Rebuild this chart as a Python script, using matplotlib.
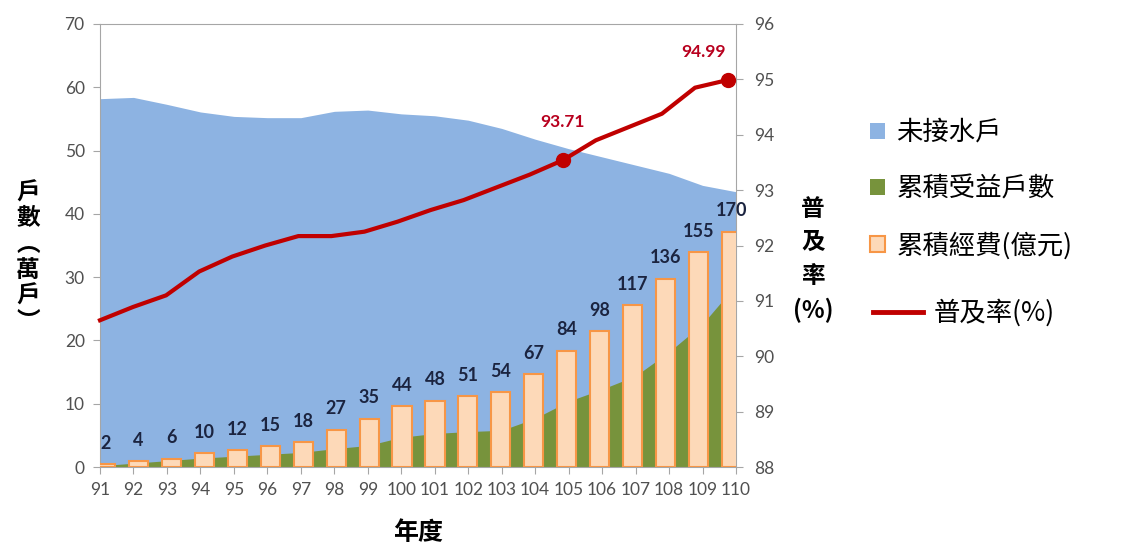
import numpy as np
import matplotlib
matplotlib.use("Agg")
import matplotlib.pyplot as plt
from matplotlib.patches import Patch
from matplotlib.lines import Line2D

# data
years = [91, 92, 93, 94, 95, 96, 97, 98, 99, 100,
         101, 102, 103, 104, 105, 106, 107, 108, 109, 110]
unconnected = [58.2, 58.4, 57.3, 56.1, 55.4, 55.2, 55.2, 56.2, 56.4, 55.8,
               55.5, 54.8, 53.5, 51.8, 50.3, 49.0, 47.7, 46.4, 44.5, 43.5]
benefited = [0.2, 0.6, 1.0, 1.4, 1.7, 2.0, 2.3, 2.9, 3.4, 4.7,
             5.3, 5.6, 5.8, 7.7, 10.4, 12.3, 14.4, 18.2, 22.6, 28.8]
cost = [2, 4, 6, 10, 12, 15, 18, 27, 35, 44,
        48, 51, 54, 67, 84, 98, 117, 136, 155, 170]
rate = [90.65, 90.89, 91.10, 91.53, 91.80, 92.00, 92.17, 92.17, 92.25, 92.43,
        92.64, 92.82, 93.05, 93.28, 93.54, 93.90, 94.14, 94.38, 94.85, 94.99]
rate_marks = [14, 19]
rate_labels = ["93.71", "94.99"]

legend_names = ["未接水戶", "累積受益戶數", "累積經費(億元)", "普及率(%)"]

BLUE = "#8db3e2"
GREEN = "#77933c"
PEACH = "#fdd9b8"
ORANGE = "#f79646"
RED = "#c00000"
GRAY = "#505050"
SPINE = "#a6a6a6"
NAVY = "#1b2440"

CJK = ["Noto Sans CJK TC", "DejaVu Sans"]
NUM = ["Lato", "DejaVu Sans"]

W, H = 1139, 548
fig = plt.figure(figsize=(W / 100, H / 100), dpi=100)
pos = [100 / W, 81 / H, 636 / W, 443 / H]

# areas
ax = fig.add_axes(pos)
ax.fill_between(years, 0, unconnected, color=BLUE, lw=0, zorder=1)
ax.fill_between(years, 0, benefited, color=GREEN, lw=0, zorder=2)
ax.set_xlim(91, 110)
ax.set_ylim(0, 70)
ax.set_xticks(years)
ax.set_yticks(range(0, 71, 10))
for s in ax.spines.values():
    s.set_color(SPINE)
ax.tick_params(axis="both", direction="out", length=5, color=SPINE,
               labelcolor=GRAY, labelsize=12.5)
ax.tick_params(axis="x", pad=6)
ax.tick_params(axis="y", pad=6)
for t in ax.get_xticklabels() + ax.get_yticklabels():
    t.set_family(NUM)

# cost bars on a hidden scale
axb = fig.add_axes(pos, frameon=False)
axb.set_xlim(90.83, 110.14)
axb.set_ylim(0, 320)
axb.axis("off")
axb.bar(years, cost, width=0.58, color=PEACH, edgecolor=ORANGE, lw=1.5)
for x, v in zip(years, cost):
    axb.annotate(str(v), (x, v), xytext=(0, 9), textcoords="offset points",
                 ha="center", va="bottom", fontsize=13, fontweight="bold",
                 color=NAVY, family=NUM, annotation_clip=False)

# coverage rate line
axl = fig.add_axes(pos, frameon=False)
axl.patch.set_visible(False)
axl.set_xlim(91, 110.24)
axl.set_ylim(88, 96)
axl.plot(years, rate, color=RED, lw=3, marker="o", markersize=10,
         markevery=rate_marks, clip_on=False, solid_joinstyle="round")
axl.set_xticks([])
axl.yaxis.tick_right()
axl.set_yticks(range(88, 97))
axl.tick_params(axis="y", direction="out", length=5, color=SPINE,
                labelcolor=GRAY, labelsize=12.5, pad=8)
for t in axl.get_yticklabels():
    t.set_family(NUM)
offsets = [(0, 22), (-18, 14)]
for i, lab, off in zip(rate_marks, rate_labels, offsets):
    axl.annotate(lab, (years[i], rate[i]), xytext=off, textcoords="offset points",
                 ha="center", va="bottom", fontsize=12.5, fontweight="bold",
                 color="#b8001e", family=NUM, annotation_clip=False)

# axis titles
fig.text(28 / W, 1 - 257 / H, "戶\n數\n︵\n萬\n戶\n︶", family=CJK, fontsize=17,
         fontweight="bold", ha="center", va="center", linespacing=1.1)
fig.text(813 / W, 1 - 260 / H, "普\n及\n率\n(%)", family=CJK, fontsize=17,
         fontweight="bold", ha="center", va="center", linespacing=1.5)
fig.text(418 / W, 1 - 533 / H, "年度", family=CJK, fontsize=18,
         fontweight="bold", ha="center", va="center")

# legends
h1 = [Patch(facecolor=BLUE, edgecolor="none"),
      Patch(facecolor=GREEN, edgecolor="none"),
      Patch(facecolor=PEACH, edgecolor=ORANGE, lw=1.5)]
fig.legend(h1, legend_names[:3], loc="upper left",
           bbox_to_anchor=(870 / W, 1 - 119 / H), frameon=False,
           prop={"family": CJK, "size": 19}, handlelength=0.55,
           handleheight=0.55, handletextpad=0.45, labelspacing=1.12,
           borderpad=0, borderaxespad=0)
h2 = [Line2D([], [], color=RED, lw=3.5)]
fig.legend(h2, legend_names[3:], loc="center left",
           bbox_to_anchor=(873 / W, 1 - 313 / H), frameon=False,
           prop={"family": CJK, "size": 19}, handlelength=1.9,
           handletextpad=0.4, borderpad=0, borderaxespad=0)

fig.savefig("out.png", dpi=100)
